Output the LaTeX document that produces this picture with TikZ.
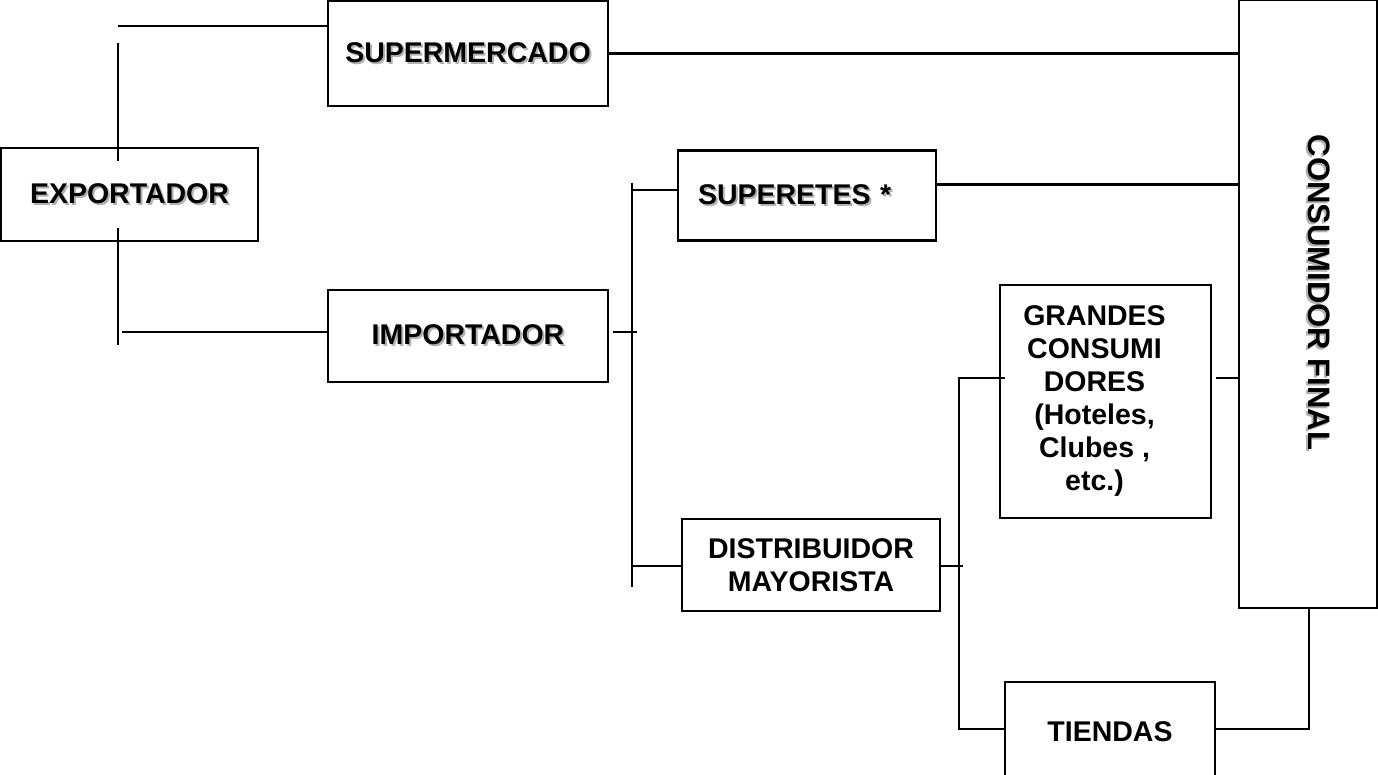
\documentclass[tikz,border=0pt]{standalone}
\usepackage{fontspec}
\setmainfont{Liberation Sans}
\newcommand{\shd}[1]{\makebox[0pt][l]{\hspace{2pt}\raisebox{-2pt}{\color{black!30}#1}}#1}
\begin{document}
\begin{tikzpicture}[x=1pt,y=-1pt,
  box/.style={draw, line width=2.2pt, rectangle, inner sep=0pt,
    font=\bfseries\fontsize{28.5}{33}\selectfont, align=center},
  conn/.style={line width=2.2pt}]
\useasboundingbox (0,0) rectangle (1378,775);
% boxes
\node[box, minimum width=257pt, minimum height=93pt] (exp) at (129.5,194.5) {\shd{EXPORTADOR}};
\node[box, minimum width=280pt, minimum height=105pt] (sup) at (468,53.5) {\shd{SUPERMERCADO}};
\node[box, minimum width=280pt, minimum height=92pt] (imp) at (468,336) {\shd{IMPORTADOR}};
\node[box, minimum height=90pt, inner xsep=20pt, text width=218pt, align=left] (supt) at (807,195.5) {\shd{SUPERETES *}};
\node[box, minimum width=258pt, minimum height=92pt] (dist) at (811,565) {DISTRIBUIDOR\\MAYORISTA};
\node[box, minimum width=211pt, minimum height=233pt] (gran) at (1105.5,401.5)
  {\makebox[0pt]{\hspace{-22pt}\begin{tabular}{@{}c@{}}GRANDES\\CONSUMI\\DORES\\(Hoteles,\\Clubes ,\\etc.)\end{tabular}}};
\node[box, minimum width=210pt, minimum height=100pt] (tien) at (1110,732) {TIENDAS};
\node[box, minimum width=138pt, minimum height=608pt, font=\bfseries\fontsize{31}{36}\selectfont] (cons) at (1308,304)
  {\rotatebox{-90}{\smash{\shd{CONSUMIDOR FINAL}}\hspace{23pt}}};
% connector points
\coordinate (a1) at (118,26);
\coordinate (a2) at (118,43);
\coordinate (a3) at (118,161);
\coordinate (b1) at (118,228);
\coordinate (b2) at (118,345);
\coordinate (b3) at (122,332);
\coordinate (c1) at (637,332);
\coordinate (c2) at (632,183);
\coordinate (c3) at (632,587);
\coordinate (c4) at (632,190);
\coordinate (c5) at (632,566);
\coordinate (d1) at (963,566);
\coordinate (d2) at (959,378);
\coordinate (d3) at (959,729);
\coordinate (e1) at (1309,729);
% connectors
\draw[conn] (a1) -- (sup.west |- a1);
\draw[conn] (a2) -- (a3);
\draw[conn] (b1) -- (b2);
\draw[conn] (b3) -- (imp.west |- b3);
\draw[conn] (sup.east) -- (sup.east -| cons.west);
\draw[conn] ([yshift=11pt]supt.east) -- ([yshift=11pt]supt.east -| cons.west);
\draw[conn] ([xshift=4pt]imp.east |- c1) -- (c1);
\draw[conn] (c2) -- (c3);
\draw[conn] (c4) -- (c4 -| supt.west);
\draw[conn] (c5) -- (c5 -| dist.west);
\draw[conn] (dist.east |- d1) -- (d1);
\draw[conn] ([xshift=6pt]gran.west |- d2) -- (d2) -- (d3) -- (tien.west |- d3);
\draw[conn] ([xshift=4pt]gran.east |- d2) -- (d2 -| cons.west);
\draw[conn] (tien.east |- e1) -- (e1) -- (e1 |- cons.south);
\end{tikzpicture}
\end{document}
